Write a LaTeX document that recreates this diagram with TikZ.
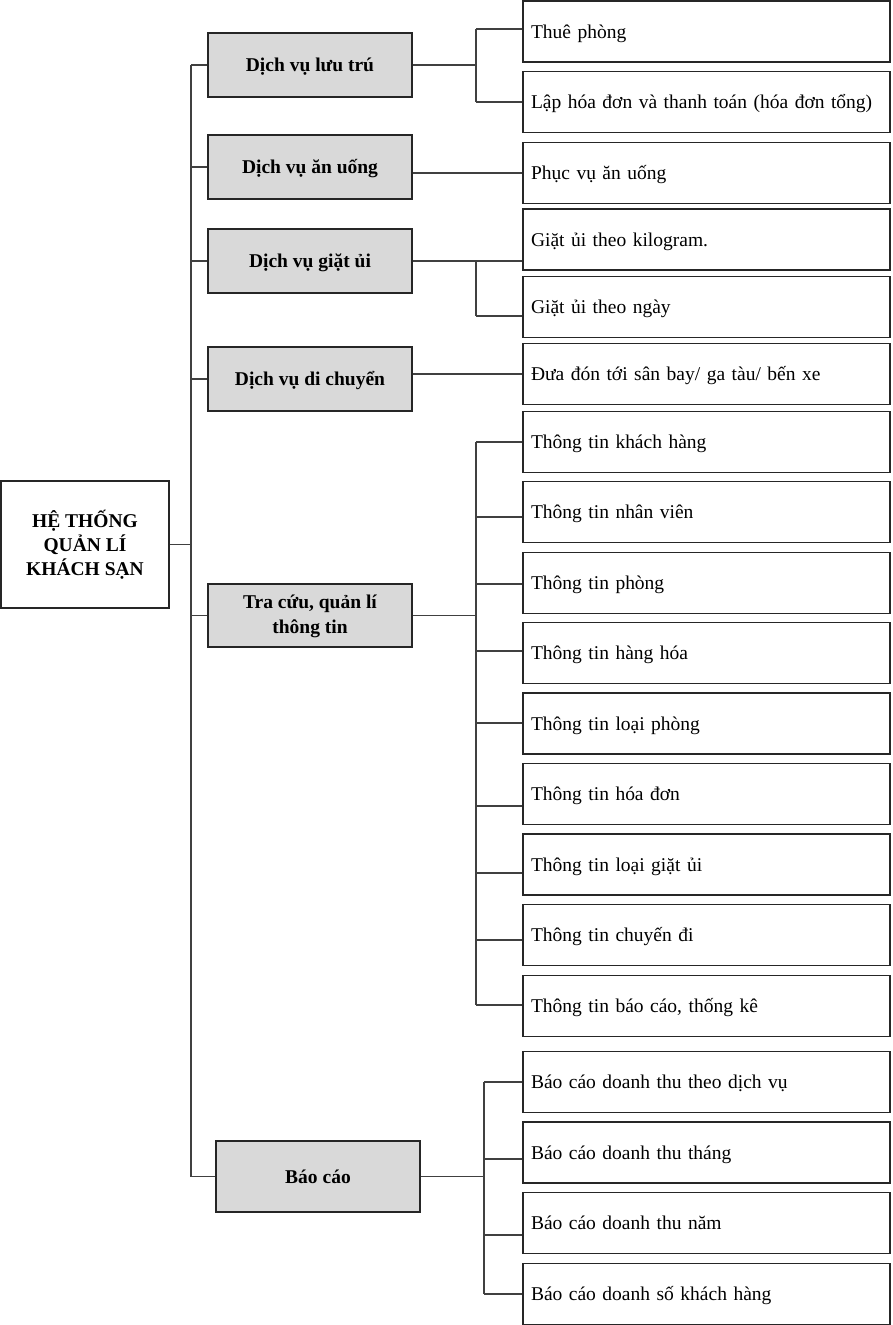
\documentclass[tikz,border=0pt]{standalone}
\usepackage{fontspec}
\setmainfont{Liberation Serif}
\definecolor{boxgray}{HTML}{D9D9D9}

\begin{document}
\begin{tikzpicture}[x=1pt, y=-1pt,
	root/.style={draw=black!85, line width=1.3pt, minimum width=168pt, minimum height=127pt, align=center, font=\fontsize{19.5pt}{24pt}\selectfont\bfseries},
	group/.style={draw=black!85, line width=1.3pt, fill=boxgray, minimum width=204pt, minimum height=64pt, text height=17.5pt, text depth=4.5pt, align=center, font=\fontsize{19.5pt}{25pt}\selectfont\bfseries},
	leaf/.style={draw=black!85, line width=1.3pt, minimum height=61pt, text width=351pt, text height=17.5pt, text depth=4.5pt, inner xsep=8pt, align=left, font=\fontsize{19.5pt}{24pt}\selectfont},
	link/.style={draw=black!75, line width=1.1pt}]
	\useasboundingbox (0, 0) rectangle (892, 1325);
	% nodes
	\node [root] (0) at (85, 544.5) {HỆ THỐNG\\QUẢN LÍ\\KHÁCH SẠN};
	\node [group] (1) at (310, 65) {Dịch vụ lưu trú};
	\node [group] (2) at (310, 167) {Dịch vụ ăn uống};
	\node [group] (3) at (310, 261) {Dịch vụ giặt ủi};
	\node [group] (4) at (310, 379) {Dịch vụ di chuyển};
	\node [group, minimum height=63pt, text height=, text depth=] (5) at (310, 615.5) {\raisebox{-4pt}{\begin{tabular}{@{}c@{}}Tra cứu, quản lí\\thông tin\end{tabular}}};
	\node [group, minimum height=71pt] (6) at (318, 1176.5) {Báo cáo};
	%% luu tru
	\node [leaf] (7) at (706.5, 31.5) {Thuê phòng};
	\node [leaf] (8) at (706.5, 102) {Lập hóa đơn và thanh toán (hóa đơn tổng)};
	%% an uong
	\node [leaf] (9) at (706.5, 173) {Phục vụ ăn uống};
	%% giat ui
	\node [leaf] (10) at (706.5, 239.5) {Giặt ủi theo kilogram.};
	\node [leaf] (11) at (706.5, 307) {Giặt ủi theo ngày};
	%% di chuyen
	\node [leaf] (12) at (706.5, 374) {Đưa đón tới sân bay/ ga tàu/ bến xe};
	%% tra cuu
	\node [leaf] (13) at (706.5, 442) {Thông tin khách hàng};
	\node [leaf] (14) at (706.5, 512) {Thông tin nhân viên};
	\node [leaf] (15) at (706.5, 583) {Thông tin phòng};
	\node [leaf] (16) at (706.5, 653) {Thông tin hàng hóa};
	\node [leaf] (17) at (706.5, 723.5) {Thông tin loại phòng};
	\node [leaf] (18) at (706.5, 794) {Thông tin hóa đơn};
	\node [leaf] (19) at (706.5, 864.5) {Thông tin loại giặt ủi};
	\node [leaf] (20) at (706.5, 935) {Thông tin chuyến đi};
	\node [leaf] (21) at (706.5, 1006) {Thông tin báo cáo, thống kê};
	%% bao cao
	\node [leaf] (22) at (706.5, 1082) {Báo cáo doanh thu theo dịch vụ};
	\node [leaf] (23) at (706.5, 1152.5) {Báo cáo doanh thu tháng};
	\node [leaf] (24) at (706.5, 1223) {Báo cáo doanh thu năm};
	\node [leaf] (25) at (706.5, 1294) {Báo cáo doanh số khách hàng};
	% junctions
	\coordinate (26) at (191, 544.5);
	\coordinate (27) at (191, 65);
	\coordinate (28) at (191, 167);
	\coordinate (29) at (191, 261);
	\coordinate (30) at (191, 379);
	\coordinate (31) at (191, 615.5);
	\coordinate (32) at (191, 1176.5);
	\coordinate (33) at (476, 65);
	\coordinate (34) at (476, 29);
	\coordinate (35) at (476, 102);
	\coordinate (36) at (476, 261);
	\coordinate (37) at (476, 316);
	\coordinate (38) at (476, 615.5);
	\coordinate (39) at (476, 442);
	\coordinate (40) at (476, 517);
	\coordinate (41) at (476, 584);
	\coordinate (42) at (476, 651);
	\coordinate (43) at (476, 723);
	\coordinate (44) at (476, 806);
	\coordinate (45) at (476, 873);
	\coordinate (46) at (476, 940);
	\coordinate (47) at (476, 1005);
	\coordinate (48) at (484, 1176.5);
	\coordinate (49) at (484, 1082);
	\coordinate (50) at (484, 1159);
	\coordinate (51) at (484, 1235);
	\coordinate (52) at (484, 1294);
	% edges
	\draw [link] (0.east) to (26);
	\draw [link] (27) to (32);
	\draw [link] (27) to (1.west);
	\draw [link] (28) to (2.west);
	\draw [link] (29) to (3.west);
	\draw [link] (30) to (4.west);
	\draw [link] (31) to (5.west);
	\draw [link] (32) to (6.west);
	%% luu tru
	\draw [link] (1.east) to (33);
	\draw [link] (34) to (35);
	\draw [link] (34) to (34 -| 7.west);
	\draw [link] (35) to (35 -| 8.west);
	%% an uong
	\draw [link] (9.west -| 2.east) to (9.west);
	%% giat ui
	\draw [link] (3.east) to (3.east -| 10.west);
	\draw [link] (36) to (37);
	\draw [link] (37) to (37 -| 11.west);
	%% di chuyen
	\draw [link] (12.west -| 4.east) to (12.west);
	%% tra cuu
	\draw [link] (5.east) to (38);
	\draw [link] (39) to (47);
	\draw [link] (39) to (39 -| 13.west);
	\draw [link] (40) to (40 -| 14.west);
	\draw [link] (41) to (41 -| 15.west);
	\draw [link] (42) to (42 -| 16.west);
	\draw [link] (43) to (43 -| 17.west);
	\draw [link] (44) to (44 -| 18.west);
	\draw [link] (45) to (45 -| 19.west);
	\draw [link] (46) to (46 -| 20.west);
	\draw [link] (47) to (47 -| 21.west);
	%% bao cao
	\draw [link] (6.east) to (48);
	\draw [link] (49) to (52);
	\draw [link] (49) to (49 -| 22.west);
	\draw [link] (50) to (50 -| 23.west);
	\draw [link] (51) to (51 -| 24.west);
	\draw [link] (52) to (52 -| 25.west);
\end{tikzpicture}
\end{document}
